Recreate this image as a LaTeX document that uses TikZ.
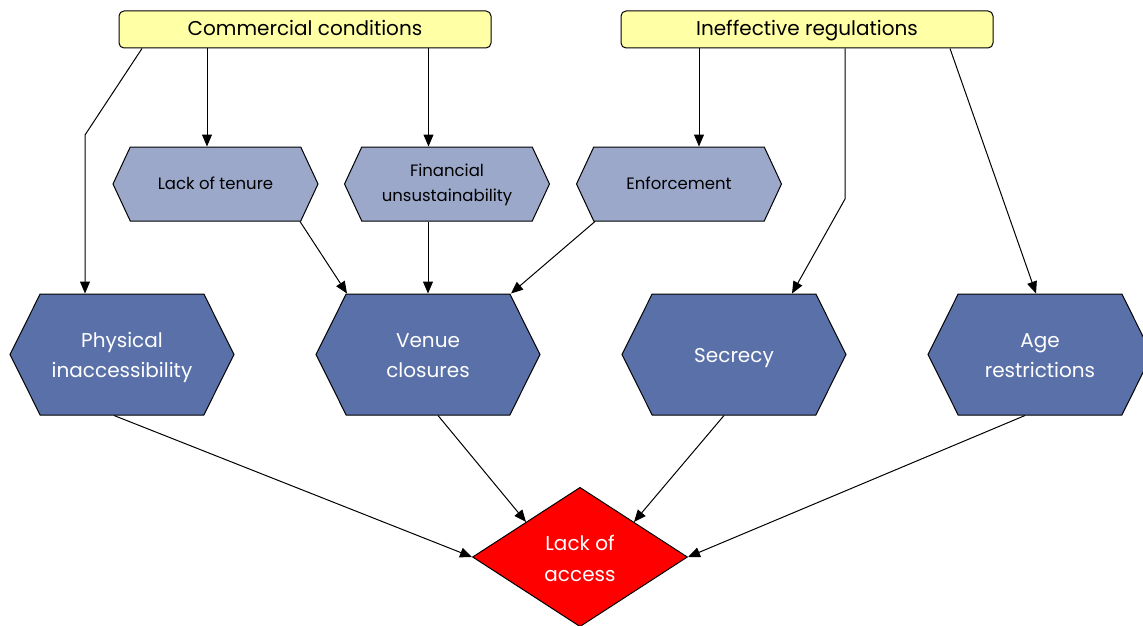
\documentclass[tikz,border=0pt]{standalone}
\usepackage{fontspec}
\setmainfont{Poppins}
\usetikzlibrary{shapes,arrows,arrows.meta}
\usetikzlibrary{calc}
\definecolor{myyellow}{RGB}{255,255,166}
\definecolor{lightblue}{RGB}{155,168,202}
\definecolor{darkblue}{RGB}{90,112,168}
\newcommand{\lift}[1]{\rule{0pt}{#1pt}}

\begin{document}
\begin{tikzpicture}[x=1pt,y=-1pt]

\tikzstyle{cause} = [draw, rounded corners=5, fill=myyellow, line width=1,
minimum width=372, minimum height=37, inner sep=0, font=\fontsize{20}{24}\selectfont,
text height=16, text depth=3]
\tikzstyle{small-hex} = [draw, shape=signal, signal to=east and west, signal pointer angle=130,
fill=lightblue, line width=1, minimum width=205, minimum height=74, inner sep=0,
align=center, font=\fontsize{16.5}{25}\selectfont, execute at end node=\strut]
\tikzstyle{big-hex} = [draw, shape=signal, signal to=east and west, signal pointer angle=127,
fill=darkblue, text=white, line width=1, minimum width=224, minimum height=121, inner sep=0,
align=center, font=\fontsize{20}{30}\selectfont, execute at end node=\strut]
\tikzstyle{result} = [draw, diamond, fill=red, text=white, line width=1,
minimum width=215, minimum height=137, inner sep=0, align=center,
font=\fontsize{20}{31}\selectfont, execute at end node=\strut]
\tikzstyle{link} = [-{Triangle[length=12,width=10]}, line width=1]

\useasboundingbox (0,0) rectangle (1143,626);

\node [cause] (commercial) at (305,29.5) {Commercial conditions};
\node [cause] (regulations) at (807,29.5) {Ineffective regulations};

\node [small-hex] (tenure) at (215.5,184) {\lift{17}Lack of tenure};
\node [small-hex] (finance) at (447,184) {\lift{17}Financial\\unsustainability};
\node [small-hex] (enforce) at (679,184) {\lift{17}Enforcement};

\node [big-hex] (physical) at (122,354.5) {\lift{25}Physical\\inaccessibility};
\node [big-hex] (venue) at (428,354.5) {\lift{25}Venue\\closures};
\node [big-hex] (secrecy) at (734,354.5) {\lift{25}Secrecy};
\node [big-hex] (age) at (1040,354.5) {\lift{25}Age\\restrictions};

\node [result] (access) at (580,557) {\lift{28}Lack of\\access};

\coordinate (bendA) at (85,135);
\coordinate (bendB) at (845,199);

% commercial conditions
\draw[link] ($(commercial.south)+(-163,0)$) -- (bendA) -- ($(physical.north)+(-37,0)$);
\draw[link] ($(commercial.south)+(-98,0)$) -- ($(tenure.north)+(-8.5,0)$);
\draw[link] ($(commercial.south)+(123.5,0)$) -- ($(finance.north)+(-18.5,0)$);

% ineffective regulations
\draw[link] ($(regulations.south)+(-108,0)$) -- ($(enforce.north)+(20,0)$);
\draw[link] ($(regulations.south)+(38,0)$) -- (bendB) -- ($(secrecy.north)+(58,0)$);
\draw[link] ($(regulations.south)+(143,0)$) -- ($(age.north)+(-4,0)$);

% into venue closures
\draw[link] ($(tenure.south)+(84.5,0)$) -- ($(venue.north)+(-81,0)$);
\draw[link] ($(finance.south)+(-19,0)$) -- (venue.north);
\draw[link] ($(enforce.south)+(-84,0)$) -- ($(venue.north)+(83,0)$);

% into lack of access
\draw[link] ($(physical.south)+(-8,0)$) -- (access.west);
\draw[link] ($(venue.south)+(10,0)$) -- (access.north west);
\draw[link] ($(secrecy.south)+(-10,0)$) -- (access.north east);
\draw[link] ($(age.south)+(-15,0)$) -- (access.east);

\end{tikzpicture}
\end{document}
